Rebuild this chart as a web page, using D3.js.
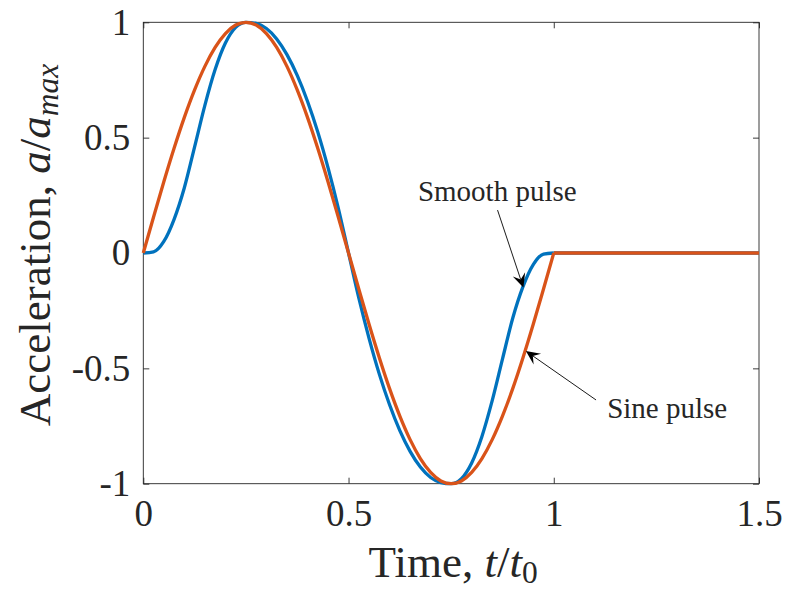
<!DOCTYPE html>
<html>
<head>
<meta charset="utf-8">
<script src="https://cdn.jsdelivr.net/npm/d3@7"></script>
<style>
  html, body { margin: 0; padding: 0; background: #ffffff; }
  svg { display: block; }
  text { font-family: "Liberation Serif", "Times New Roman", serif; fill: #262626; }
</style>
</head>
<body>
<svg id="chart" width="788" height="594"></svg>
<script>
// Normalised time samples t/t0
const timeValues = [
  0, 0.025, 0.05, 0.075, 0.1, 0.125, 0.15, 0.175, 0.2, 0.225,
  0.25, 0.275, 0.3, 0.325, 0.35, 0.375, 0.4, 0.425, 0.45, 0.475,
  0.5, 0.525, 0.55, 0.575, 0.6, 0.625, 0.65, 0.675, 0.7, 0.725,
  0.75, 0.775, 0.8, 0.825, 0.85, 0.875, 0.9, 0.925, 0.95, 0.975,
  1.0, 1.5
];

// Smooth pulse, a/a_max
const smoothPulse = [
  0, 0.005, 0.05, 0.146, 0.283, 0.46, 0.64, 0.795, 0.91, 0.978,
  1.0, 0.995, 0.973, 0.928, 0.86, 0.77, 0.658, 0.525, 0.37, 0.195,
  0, -0.195, -0.37, -0.525, -0.658, -0.77, -0.86, -0.928, -0.973, -0.995,
  -1.0, -0.978, -0.91, -0.795, -0.64, -0.46, -0.283, -0.146, -0.05, -0.005,
  0, 0
];

// Sine pulse, a/a_max
const sinePulse = [
  0, 0.156, 0.309, 0.454, 0.588, 0.707, 0.809, 0.891, 0.951, 0.988,
  1.0, 0.988, 0.951, 0.891, 0.809, 0.707, 0.588, 0.454, 0.309, 0.156,
  0, -0.156, -0.309, -0.454, -0.588, -0.707, -0.809, -0.891, -0.951, -0.988,
  -1.0, -0.988, -0.951, -0.891, -0.809, -0.707, -0.588, -0.454, -0.309, -0.156,
  0, 0
];

const xTicks = [0, 0.5, 1, 1.5];
const xTickLabels = ["0", "0.5", "1", "1.5"];
const yTicks = [-1, -0.5, 0, 0.5, 1];
const yTickLabels = ["-1", "-0.5", "0", "0.5", "1"];

// Pulse ends at t/t0 = 1; after that the signal stays at rest
const pulseEnd = 1;

const seriesColors = { smooth: "#0072BD", sine: "#D95319" };
const axisColor = "#262626";

const margin = { left: 143.3, right: 29, top: 22.3, bottom: 110.3 };
const W = 788, H = 594;

const svg = d3.select("#chart");
svg.append("rect").attr("width", W).attr("height", H).attr("fill", "#ffffff");

const x = d3.scaleLinear().domain([0, 1.5]).range([margin.left, W - margin.right]);
const y = d3.scaleLinear().domain([-1, 1]).range([H - margin.bottom, margin.top]);

const tickLen = 6;
const tickFont = 37;

// Axes: inward ticks on all four sides, labels on bottom and left
const gBottom = svg.append("g")
  .attr("transform", `translate(0,${y(-1)})`)
  .call(d3.axisBottom(x).tickValues(xTicks)
    .tickFormat((d, i) => xTickLabels[i])
    .tickSizeInner(-tickLen).tickSizeOuter(0).tickPadding(18));
const gLeft = svg.append("g")
  .attr("transform", `translate(${x(0)},0)`)
  .call(d3.axisLeft(y).tickValues(yTicks)
    .tickFormat((d, i) => yTickLabels[i])
    .tickSizeInner(-tickLen).tickSizeOuter(0).tickPadding(13));
const gTop = svg.append("g")
  .attr("transform", `translate(0,${y(1)})`)
  .call(d3.axisTop(x).tickValues(xTicks).tickFormat("")
    .tickSizeInner(-tickLen).tickSizeOuter(0));
const gRight = svg.append("g")
  .attr("transform", `translate(${x(1.5)},0)`)
  .call(d3.axisRight(y).tickValues(yTicks).tickFormat("")
    .tickSizeInner(-tickLen).tickSizeOuter(0));

[gBottom, gLeft, gTop, gRight].forEach(g => {
  g.select(".domain").remove();
  g.selectAll(".tick line").attr("stroke", axisColor).attr("stroke-width", 0.9);
  g.selectAll(".tick text")
    .attr("fill", axisColor)
    .style("font-family", '"Liberation Serif", serif')
    .style("font-size", tickFont + "px");
});
gBottom.selectAll(".tick text").attr("dy", "0.66em");

// Axes box
svg.append("rect")
  .attr("x", x(0)).attr("y", y(1))
  .attr("width", x(1.5) - x(0)).attr("height", y(-1) - y(1))
  .attr("fill", "none").attr("stroke", axisColor).attr("stroke-width", 0.9);

// Curves: the pulse part is smooth, the rest is a straight rest line
function drawSeries(values, color) {
  const pts = timeValues.map((t, i) => [t, values[i]]);
  const pulse = pts.filter(p => p[0] <= pulseEnd);
  const rest = pts.filter(p => p[0] >= pulseEnd);
  const smoothLine = d3.line().x(p => x(p[0])).y(p => y(p[1])).curve(d3.curveMonotoneX);
  const straightLine = d3.line().x(p => x(p[0])).y(p => y(p[1]));
  const g = svg.append("g")
    .attr("fill", "none").attr("stroke", color)
    .attr("stroke-width", 3.3).attr("stroke-linejoin", "round").attr("stroke-linecap", "butt");
  g.append("path").attr("d", smoothLine(pulse));
  g.append("path").attr("d", straightLine(rest));
}
drawSeries(smoothPulse, seriesColors.smooth);
drawSeries(sinePulse, seriesColors.sine);

// Annotations with arrows
const annoFont = 29;
function arrow(t0, v0, t1, v1) {
  const x0 = x(t0), y0 = y(v0), x1 = x(t1), y1 = y(v1);
  const ang = Math.atan2(y1 - y0, x1 - x0);
  const L = 14, Wd = 6.5, notch = 8.5;
  svg.append("line")
    .attr("x1", x0).attr("y1", y0)
    .attr("x2", x1 - Math.cos(ang) * notch).attr("y2", y1 - Math.sin(ang) * notch)
    .attr("stroke", "#000").attr("stroke-width", 0.9);
  const head = [[0, 0], [-L, -Wd], [-notch, 0], [-L, Wd]];
  svg.append("path")
    .attr("d", "M" + head.map(p => p.join(",")).join("L") + "Z")
    .attr("transform", `translate(${x1},${y1}) rotate(${ang * 180 / Math.PI})`)
    .attr("fill", "#000");
}
arrow(0.863, 0.186, 0.926, -0.150);
arrow(1.103, -0.637, 0.932, -0.425);

svg.append("text")
  .attr("x", x(0.669)).attr("y", y(0.225))
  .style("font-size", annoFont + "px").attr("fill", "#000")
  .text("Smooth pulse");
svg.append("text")
  .attr("x", x(1.130)).attr("y", y(-0.715))
  .style("font-size", annoFont + "px").attr("fill", "#000")
  .text("Sine pulse");

// Axis titles
const titleFont = 45;
const xt = svg.append("text")
  .attr("x", (x(0) + x(1.5)) / 2 + 2).attr("y", 577)
  .attr("text-anchor", "middle")
  .style("font-size", titleFont + "px");
xt.append("tspan").text("Time, ");
xt.append("tspan").style("font-style", "italic").text("t");
xt.append("tspan").text("/");
xt.append("tspan").style("font-style", "italic").text("t");
xt.append("tspan").attr("dy", 6).style("font-size", (titleFont * 0.7) + "px").text("0");

const yt = svg.append("text")
  .attr("transform", `translate(50,${(y(1) + y(-1)) / 2 - 8}) rotate(-90)`)
  .attr("text-anchor", "middle")
  .style("font-size", titleFont + "px");
yt.append("tspan").text("Acceleration, ");
yt.append("tspan").style("font-style", "italic").text("a");
yt.append("tspan").text("/");
yt.append("tspan").style("font-style", "italic").text("a");
yt.append("tspan").attr("dy", 8).style("font-size", (titleFont * 0.7) + "px")
  .style("font-style", "italic").text("max");
</script>
</body>
</html>
